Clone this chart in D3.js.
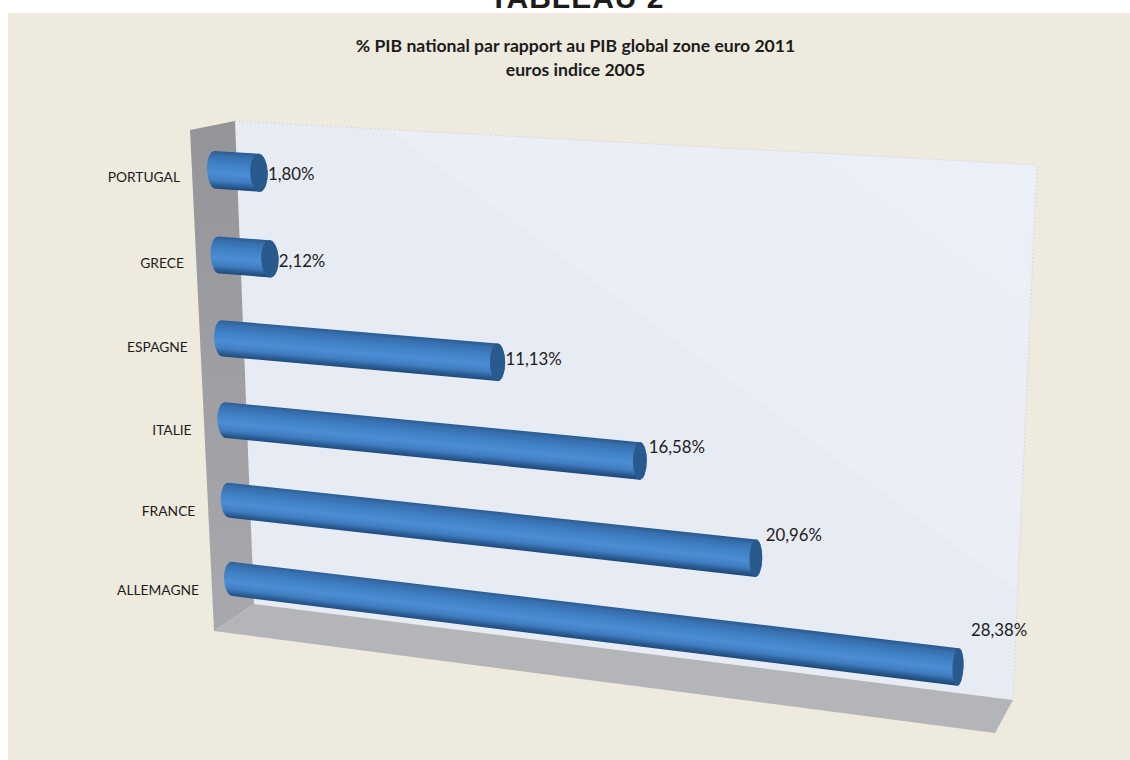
<!DOCTYPE html>
<html lang="fr">
<head>
<meta charset="utf-8">
<title>Tableau 2</title>
<script src="https://cdnjs.cloudflare.com/ajax/libs/d3/7.8.5/d3.min.js"></script>
<style>
  html, body { margin: 0; padding: 0; background: #fff; }
  svg { display: block; }
  text { fill: #1c1c1c; }
</style>
</head>
<body>
<svg id="chart" width="1130" height="760"></svg>
<script>
// Chart content
const categories = ["PORTUGAL", "GRECE", "ESPAGNE", "ITALIE", "FRANCE", "ALLEMAGNE"];
const shares = [1.80, 2.12, 11.13, 16.58, 20.96, 28.38];
const heading = "TABLEAU 2";
const titleLines = ["% PIB national par rapport au PIB global zone euro 2011", "euros indice 2005"];

// Hand-placed shift of each value label, top to bottom
const labelLift = [1, 2, -3, -14, -23, -37];
const labelPush = [-1, -1, -2, -1, 0, 3];

// Box faces of the 3D plot area
const backWall = [[235, 121], [1037, 165], [1013, 700], [254, 604]];
const sideWall = [[190, 130], [235, 121], [254, 604], [214, 631]];
const floorFace = [[214, 631], [254, 604], [1013, 700], [995, 733]];
const wallSheen = [[389, 130], [1037, 165], [1016, 590]];
const wallSheen2 = [[810, 153], [1037, 165], [1027, 310]];

// Plane holding the bar axes, as corners of the (value, category) unit square
const barPlane = [[215, 170], [979, 218], [958, 667], [232, 579]];

// Projective map of the unit square onto a quadrilateral
function squareToQuad([[x0, y0], [x1, y1], [x2, y2], [x3, y3]]) {
  const dx1 = x1 - x2, dx2 = x3 - x2, sx = x0 - x1 + x2 - x3;
  const dy1 = y1 - y2, dy2 = y3 - y2, sy = y0 - y1 + y2 - y3;
  const den = dx1 * dy2 - dx2 * dy1;
  const g = (sx * dy2 - dx2 * sy) / den;
  const h = (dx1 * sy - sx * dy1) / den;
  const a = x1 - x0 + g * x1, b = x3 - x0 + h * x3;
  const d = y1 - y0 + g * y1, e = y3 - y0 + h * y3;
  return (u, v) => {
    const w = g * u + h * v + 1;
    return [(a * u + b * v + x0) / w, (d * u + e * v + y0) / w];
  };
}

const project = squareToQuad(barPlane);
const valueScale = d3.scaleLinear().domain([0, d3.max(shares)]).range([0, 1]);
const categoryScale = d3.scalePoint().domain(categories).range([0, 1]);
const halfThickness = 0.044;
const startRadius = 8;
// End caps narrow as the bars run further round the view
const capRadius = d3.scaleLinear().domain([0, d3.max(shares)]).range([9, 5.5]);

const svg = d3.select("#chart");
const defs = svg.append("defs");
const outline = d3.line();
const closed = pts => outline(pts) + "Z";

// Heading sits behind the panel, cut off at the top of the page
svg.append("text")
  .attr("x", 577).attr("y", 8)
  .attr("text-anchor", "middle")
  .style("font", "bold 30px 'Liberation Sans'")
  .style("letter-spacing", "1px")
  .text(heading);

svg.append("rect")
  .attr("x", 8).attr("y", 13).attr("width", 1122).attr("height", 747)
  .attr("fill", "#eeeade");

titleLines.forEach((line, i) => {
  svg.append("text")
    .attr("x", 575.5).attr("y", 52 + i * 24)
    .attr("text-anchor", "middle")
    .style("font", "bold 17.6px Lato")
    .text(line);
});

// Box faces
const sideGrad = defs.append("linearGradient").attr("id", "sideFill")
  .attr("x1", 0).attr("y1", 0).attr("x2", 0).attr("y2", 1);
sideGrad.append("stop").attr("offset", 0).attr("stop-color", "#959599");
sideGrad.append("stop").attr("offset", 1).attr("stop-color", "#a9a9ad");

svg.append("path").attr("d", closed(backWall)).attr("fill", "#e7ebf4");
svg.append("path").attr("d", closed(wallSheen)).attr("fill", "#ebeef4");
svg.append("path").attr("d", closed(wallSheen2)).attr("fill", "#eaeff8");
svg.append("path").attr("d", outline([backWall[0], backWall[1], backWall[2]]))
  .attr("fill", "none").attr("stroke", "#c9c9c9").attr("stroke-width", 1).attr("stroke-dasharray", "1 3");
svg.append("path").attr("d", closed(sideWall)).attr("fill", "url(#sideFill)");
svg.append("path").attr("d", closed(floorFace)).attr("fill", "#b3b5b9");

// Cylinder bars
const bars = categories.map((name, i) => {
  const v = categoryScale(name);
  const u = valueScale(shares[i]);
  return {
    name, value: shares[i], lift: labelLift[i], push: labelPush[i], v,
    startTop: project(0, v - halfThickness),
    startBottom: project(0, v + halfThickness),
    endTop: project(u, v - halfThickness),
    endBottom: project(u, v + halfThickness),
    start: project(0, v),
    end: project(u, v)
  };
});

const capAngle = (a, b) => Math.atan2(b[1] - a[1], b[0] - a[0]) * 180 / Math.PI - 90;
const capSpan = (a, b) => Math.hypot(b[0] - a[0], b[1] - a[1]) / 2;

bars.forEach((b, i) => {
  const rS = capSpan(b.startTop, b.startBottom);
  const rE = capSpan(b.endTop, b.endBottom);
  const rx = capRadius(b.value);

  // Shading runs square to the bar axis, so it stays level along the whole tube
  const ax = b.end[0] - b.start[0], ay = b.end[1] - b.start[1];
  const len = Math.hypot(ax, ay);
  const nx = -ay / len, ny = ax / len;
  const reach = (rS + rE) / 2;
  const g = defs.append("linearGradient").attr("id", `tube${i}`)
    .attr("gradientUnits", "userSpaceOnUse")
    .attr("x1", b.start[0] - nx * reach).attr("y1", b.start[1] - ny * reach)
    .attr("x2", b.start[0] + nx * reach).attr("y2", b.start[1] + ny * reach);
  [[0, "#2a5c90"], [0.12, "#376fae"], [0.35, "#4082c6"], [0.58, "#4c8dd4"], [0.78, "#3f7dc0"], [0.92, "#28588e"], [1, "#1f4a7a"]]
    .forEach(([o, c]) => g.append("stop").attr("offset", o).attr("stop-color", c));

  const path = `M${b.startTop}L${b.endTop}`
    + `A${rx} ${rE} ${capAngle(b.endTop, b.endBottom)} 0 1 ${b.endBottom}`
    + `L${b.startBottom}`
    + `A${startRadius} ${rS} ${capAngle(b.startTop, b.startBottom)} 0 1 ${b.startTop}Z`;

  const group = svg.append("g").attr("class", "bar");
  group.append("path").attr("d", path).attr("fill", `url(#tube${i})`);
  group.append("ellipse")
    .attr("rx", rx).attr("ry", rE)
    .attr("transform", `translate(${b.end}) rotate(${capAngle(b.endTop, b.endBottom)})`)
    .attr("fill", "#285a8e");

  // Category label, left of the side wall
  svg.append("text")
    .attr("x", b.start[0] - 35 + 2 * b.v).attr("y", b.start[1] + 12 + 4 * b.v)
    .attr("text-anchor", "end")
    .style("font", "13.8px Lato")
    .text(b.name);

  // Value label, French decimal comma
  svg.append("text")
    .attr("x", b.end[0] + 10 + b.push).attr("y", b.end[1] + 6 + b.lift)
    .style("font", "16.8px Lato")
    .text(d3.format(".2f")(b.value).replace(".", ",") + "%");
});
</script>
</body>
</html>
